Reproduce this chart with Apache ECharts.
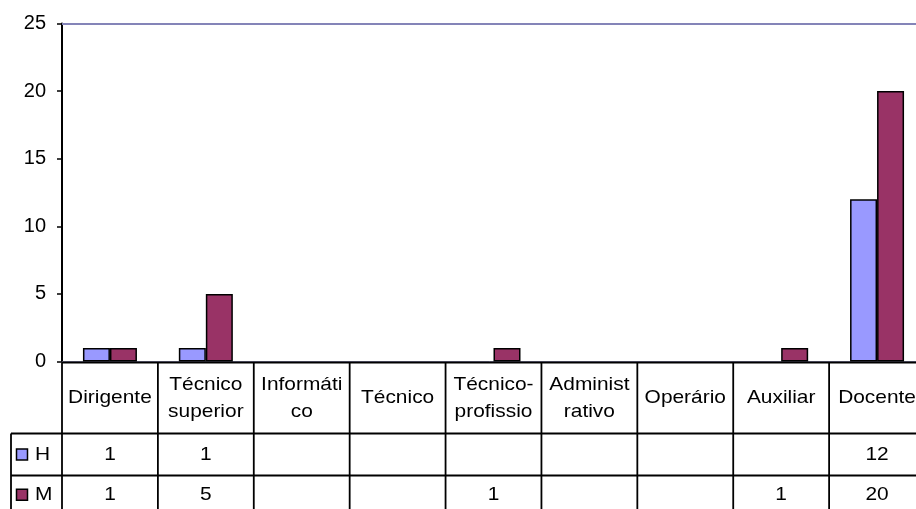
<!DOCTYPE html>
<html>
<head>
<meta charset="utf-8">
<script src="https://cdn.jsdelivr.net/npm/echarts@6/dist/echarts.min.js"></script>
<style>
    html, body { margin: 0; padding: 0; background: #fff; }
    #chartMain { width: 916px; height: 509px; }
</style>
</head>
<body>
<div id="chartMain"></div>
<script>
    // dados
    var categories = ['Dirigente', 'Técnico\nsuperior', 'Informáti\nco', 'Técnico', 'Técnico-\nprofissio', 'Administ\nrativo', 'Operário', 'Auxiliar', 'Docente'];
    var seriesNames = ['H', 'M'];
    var hValues = [1, 1, null, null, null, null, null, null, 12];
    var mValues = [1, 5, null, null, 1, null, null, 1, 20];
    var yTicks = [0, 5, 10, 15, 20, 25];

    var colors = ['#9999FF', '#993366'];
    var FONT = '"Liberation Sans", Arial, sans-serif';

    // linhas da tabela
    var rowTop = 362.5, rowCat = 433.5, rowH = 475.5, rowEnd = 520;
    var legendLeft = 11;

    var myChart = echarts.init(document.getElementById('chartMain'));

    myChart.setOption({
        animation: false,
        grid: { left: 62, width: 863, top: 23.5, height: 338, outerBoundsMode: 'none' },
        xAxis: {
            type: 'category',
            data: categories,
            axisLine: { lineStyle: { color: '#8888aa', width: 1 } },
            axisTick: { show: false },
            axisLabel: { show: false }
        },
        yAxis: {
            type: 'value',
            min: yTicks[0],
            max: yTicks[yTicks.length - 1],
            interval: 5,
            axisLine: { show: true, lineStyle: { color: '#000', width: 2 } },
            axisTick: { show: true, length: 5, lineStyle: { color: '#000', width: 1.5 } },
            axisLabel: { color: '#000', fontSize: 20, fontFamily: FONT, margin: 16 },
            splitLine: { show: false }
        },
        series: [
            {
                name: seriesNames[0],
                type: 'bar',
                data: hValues,
                barWidth: 27,
                barGap: '0%',
                itemStyle: { color: colors[0], borderColor: '#000', borderWidth: 1.5 },
                markLine: {
                    silent: true,
                    symbol: 'none',
                    label: { show: false },
                    lineStyle: { color: '#8484b8', width: 2, type: 'solid' },
                    data: [{ yAxis: yTicks[yTicks.length - 1] }]
                }
            },
            {
                name: seriesNames[1],
                type: 'bar',
                data: mValues,
                barWidth: 27,
                itemStyle: { color: colors[1], borderColor: '#000', borderWidth: 1.5 }
            }
        ]
    });

    // tabela de dados desenhada a partir do eixo
    var centers = categories.map(function (c, i) {
        return myChart.convertToPixel({ xAxisIndex: 0 }, i);
    });
    var band = centers[1] - centers[0];
    var leftEdge = centers[0] - band / 2;
    var rightEdge = centers[centers.length - 1] + band / 2;

    var lineStyle = { stroke: '#000', lineWidth: 1.8 };
    var g = [];
    function hline(x1, x2, y) {
        g.push({ type: 'line', shape: { x1: x1, y1: y, x2: x2, y2: y }, style: lineStyle, z: 10 });
    }
    function vline(x, y1, y2) {
        g.push({ type: 'line', shape: { x1: x, y1: y1, x2: x, y2: y2 }, style: lineStyle, z: 10 });
    }
    function txt(s, x, y) {
        g.push({
            type: 'text', x: x, y: y, scaleX: 1.1, z: 11,
            style: {
                text: s, x: 0, y: 0, fill: '#000', align: 'center', verticalAlign: 'middle',
                font: '19px ' + FONT, lineHeight: 27
            }
        });
    }

    hline(leftEdge, rightEdge, rowTop);
    hline(legendLeft, rightEdge, rowCat);
    hline(legendLeft, rightEdge, rowH);
    for (var i = 0; i <= categories.length; i++) {
        vline(leftEdge + band * i, rowTop, rowEnd);
    }
    vline(legendLeft, rowCat, rowEnd);

    categories.forEach(function (c, i) {
        txt(c, centers[i], (rowTop + rowCat) / 2);
        if (hValues[i] != null) txt(String(hValues[i]), centers[i], (rowCat + rowH) / 2);
        if (mValues[i] != null) txt(String(mValues[i]), centers[i], (rowH + rowEnd) / 2 - 3);
    });

    // legenda dentro da tabela
    var rowMid = [(rowCat + rowH) / 2, (rowH + rowEnd) / 2 - 3];
    seriesNames.forEach(function (n, k) {
        g.push({
            type: 'rect', z: 11,
            shape: { x: 16.5, y: rowMid[k] - 5.5, width: 11, height: 11 },
            style: { fill: colors[k], stroke: '#000', lineWidth: 1.5 }
        });
        g.push({
            type: 'text', x: 35, y: rowMid[k], scaleX: 1.1, z: 11,
            style: { text: n, x: 0, y: 0, fill: '#000', align: 'left', verticalAlign: 'middle', font: '19px ' + FONT }
        });
    });

    myChart.setOption({ graphic: g });
</script>
</body>
</html>
